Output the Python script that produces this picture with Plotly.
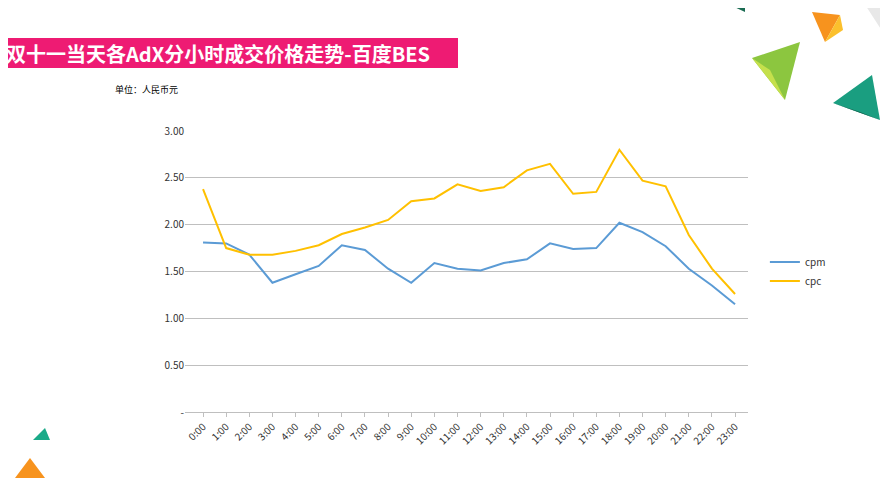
import plotly.graph_objects as go

hours = [f"{h}:00" for h in range(24)]
cpm = [1.81, 1.80, 1.68, 1.38, 1.47, 1.56, 1.78, 1.73, 1.53, 1.38, 1.59, 1.53,
       1.51, 1.59, 1.63, 1.80, 1.74, 1.75, 2.02, 1.92, 1.77, 1.53, 1.35, 1.15]
cpc = [2.38, 1.75, 1.68, 1.68, 1.72, 1.78, 1.90, 1.97, 2.05, 2.25, 2.28, 2.43,
       2.36, 2.40, 2.58, 2.65, 2.33, 2.35, 2.80, 2.47, 2.41, 1.89, 1.53, 1.26]
y_ticks = [0, 0.5, 1.0, 1.5, 2.0, 2.5, 3.0]
y_labels = ["-", "0.50", "1.00", "1.50", "2.00", "2.50", "3.00"]

fig = go.Figure()
fig.add_trace(go.Scatter(x=hours, y=cpm, name="cpm", mode="lines",
                         line=dict(color="#5b9bd5", width=2)))
fig.add_trace(go.Scatter(x=hours, y=cpc, name="cpc", mode="lines",
                         line=dict(color="#ffc000", width=2)))

# page has an 8px body margin, so shrink the figure and margins accordingly
fig.update_layout(
    width=880, height=470,
    margin=dict(l=177, r=140, t=123, b=66),
    paper_bgcolor="white", plot_bgcolor="white",
    font=dict(family="Noto Sans CJK SC", size=10, color="#333"),
    legend=dict(x=1.03, y=0.5, yanchor="middle", font=dict(size=10),
                bgcolor="rgba(0,0,0,0)"),
    xaxis=dict(range=[-0.78, 23.56], tickangle=-45, showgrid=False,
               showline=True, linecolor="#bfbfbf", ticks="outside",
               tickcolor="#bfbfbf", ticklen=4),
    yaxis=dict(range=[0, 3], tickvals=y_ticks, ticktext=y_labels,
               gridcolor="#bfbfbf", zeroline=False),
)

# page pixel -> paper coords (plot area spans x 185-748, y 131-412)
def px(x, y):
    return (x - 185) / 563, (412 - y) / 281

x0, y0 = px(-10, 68)
x1, y1 = px(458, 38)
fig.add_shape(type="rect", xref="paper", yref="paper", x0=x0, x1=x1, y0=y0, y1=y1,
              fillcolor="#ee1b73", line_width=0, layer="below")
tx, ty = px(4, 53)
fig.add_annotation(xref="paper", yref="paper", x=tx, y=ty,
                   text="<b>双十一当天各AdX分小时成交价格走势-百度BES</b>",
                   showarrow=False, xanchor="left", yanchor="middle",
                   font=dict(size=20, color="white", family="Noto Sans CJK SC"))
ux, uy = px(113, 90)
fig.add_annotation(xref="paper", yref="paper", x=ux, y=uy,
                   text="单位：人民币元", showarrow=False, xanchor="left",
                   yanchor="middle", font=dict(size=9, color="#000"))

def tri(points, color):
    p = [px(*pt) for pt in points]
    path = "M {} {} L {} {} L {} {} Z".format(p[0][0], p[0][1], p[1][0], p[1][1], p[2][0], p[2][1])
    fig.add_shape(type="path", xref="paper", yref="paper", path=path,
                  fillcolor=color, line_width=0)

tri([(730, 5), (745, 0), (745, 12)], "#1a6b52")
tri([(812, 12), (840, 15), (825, 42)], "#f7931e")
tri([(825, 42), (840, 15), (843, 30)], "#fbc02d")
tri([(862, 0), (888, 0), (888, 40)], "#e8e8e8")
tri([(752, 58), (800, 42), (785, 100)], "#8cc63f")
tri([(752, 58), (785, 100), (770, 70)], "#c5e04c")
tri([(833, 103), (872, 75), (880, 120)], "#1a9e80")
tri([(833, 103), (880, 120), (860, 112)], "#0f5c47")
tri([(33, 440), (45, 428), (50, 440)], "#1aaa88")
tri([(15, 478), (30, 458), (45, 478)], "#f7931e")

fig.write_html("out.html")
